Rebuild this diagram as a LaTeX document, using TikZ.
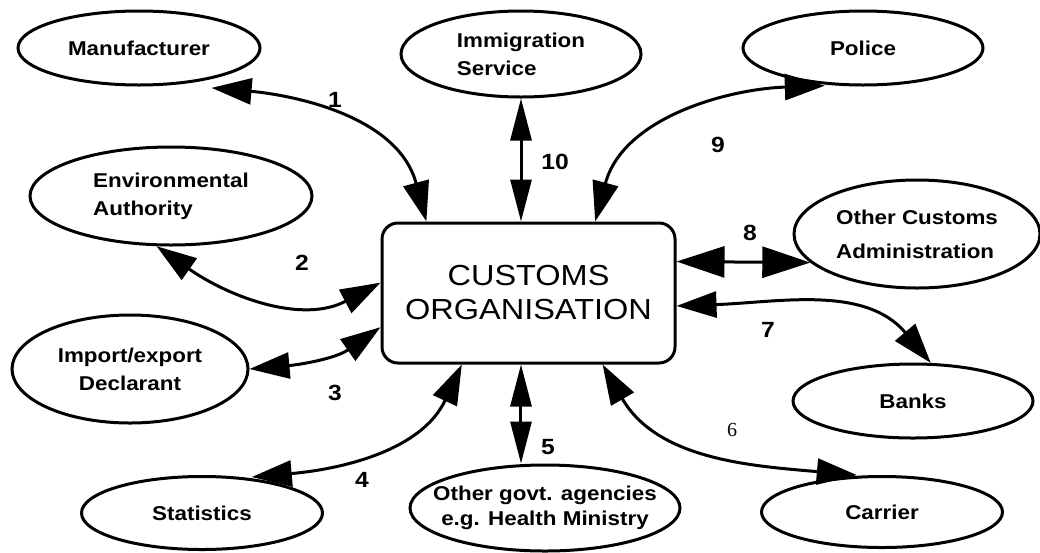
\documentclass[tikz,border=0pt]{standalone}
\usepackage{fontspec}
\usetikzlibrary{shapes.geometric, arrows.meta}
\newfontfamily\partyFont[FakeStretch=1.12]{Liberation Sans}
\newfontfamily\serifDigit{Liberation Serif}
\tikzstyle{partyStyle} = [draw, ellipse, line width=3pt, inner sep=0pt, align=center, font=\partyFont\bfseries\fontsize{20}{28}\selectfont]
\tikzstyle{customsStyle} = [draw, rectangle, rounded corners=16pt, line width=3pt, minimum width=293pt, minimum height=140pt, align=center, font=\partyFont\fontsize{29}{34}\selectfont]
\tikzstyle{linkArrow} = [line width=3pt, {Triangle[length=40pt, width=26pt]}-{Triangle[length=40pt, width=26pt]}]
\tikzstyle{linkArrowSlim} = [line width=3pt, {Triangle[length=42pt, width=21pt]}-{Triangle[length=42pt, width=21pt]}]
\tikzstyle{linkArrowWide} = [line width=3pt, {Triangle[length=48pt, width=31pt]}-{Triangle[length=48pt, width=31pt]}]
\tikzstyle{linkNumber} = [inner sep=0pt, font=\partyFont\bfseries\fontsize{22}{24}\selectfont]
\newcommand{\party}[6][]{\node [partyStyle, minimum width=#4pt, minimum height=#5pt, #1] (#2) at (#3) {#6};}

\begin{document}
\begin{tikzpicture}[x=1pt, y=1pt]
  \useasboundingbox (0,0) rectangle (1040,-552);
  \node [customsStyle] (customs) at (528.5,-293) {CUSTOMS\\ORGANISATION};

  \party{manufacturer}{139,-48}{242}{74}{Manufacturer}
  \party[align=left]{immigration}{521,-54}{240}{86}{Immigration\\Service}
  \party{police}{863,-48}{240}{74}{Police}
  \party[align=left]{envauth}{171,-196}{282}{98}{Environmental\\Authority}
  \party[align=left]{othercustoms}{917,-234}{246}{108}{Other Customs\\[6pt]Administration}
  \party{declarant}{130,-369}{236}{108}{Import/export\\Declarant}
  \party{banks}{913,-401}{240}{74}{Banks}
  \party{statistics}{202,-513}{241}{73}{Statistics}
  \party[inner xsep=-40pt]{govt}{545,-508}{270}{86}{Other govt. agencies\\[-3pt]e.g. Health Ministry}
  \party{carrier}{882,-512}{241}{71}{Carrier}

  % links round the customs box
  \draw [linkArrow, shorten <=36pt] (manufacturer.-45) to [out=-5, in=105] (customs.145);
  \draw [linkArrow] (envauth.254) to [out=-35, in=208] (customs.176);
  \draw [linkArrow] (declarant.east) to [out=5, in=215] (customs.193);
  \draw [linkArrow, shorten >=6pt] (customs.227) to [out=-115, in=5] (statistics.39);
  \draw [linkArrowSlim] (customs.-96) -- (customs.-96 |- govt.north);
  \draw [linkArrow, shorten >=5pt] (customs.-44) to [out=-60, in=175] (carrier.119);
  \draw [linkArrow] (customs.-5) to [out=2, in=130] (banks.65);
  \draw [linkArrowWide] (customs.12) -- (othercustoms.195);
  \draw [linkArrow, shorten >=9pt] (customs.47) to [out=75, in=182] (police.232);
  \draw [linkArrowSlim] (immigration.south) -- (immigration.south |- customs.north);

  \node [linkNumber] (num1) at (335,-100) {1};
  \node [linkNumber] (num2) at (302,-263) {2};
  \node [linkNumber] (num3) at (335,-393) {3};
  \node [linkNumber] (num4) at (362,-480) {4};
  \node [linkNumber] (num5) at (548,-447) {5};
  \node [linkNumber, font=\serifDigit\fontsize{20}{24}\selectfont] (num6) at (732,-430) {6};
  \node [linkNumber] (num7) at (768,-330) {7};
  \node [linkNumber] (num8) at (750,-233) {8};
  \node [linkNumber] (num9) at (718,-145) {9};
  \node [linkNumber] (num10) at (555,-162) {10};
\end{tikzpicture}
\end{document}
